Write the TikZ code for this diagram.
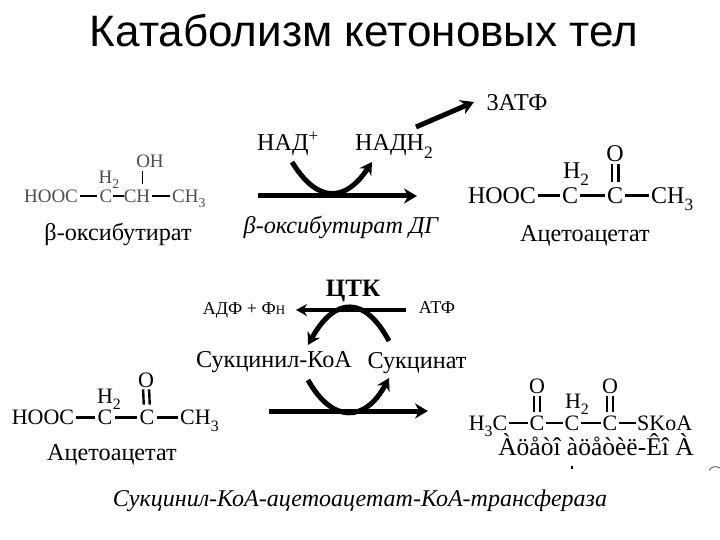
\documentclass[tikz,border=0pt]{standalone}
\usepackage{fontspec}
\setmainfont{Liberation Serif}
\newfontfamily\titlefont{Liberation Sans}
\usetikzlibrary{arrows.meta}
\newcommand{\lowindex}[1]{\raisebox{-0.3em}{\scalebox{0.72}{#1}}}
\tikzset{
    label24/.style={inner sep=0pt, text height=15.5pt, text depth=0pt, font=\fontsize{24.2}{26}\selectfont},
    label18/.style={inner sep=0pt, text height=12pt, text depth=0pt, font=\fontsize{18}{20}\selectfont},
    atomfaint/.style={inner sep=0pt, text height=12.5pt, text depth=0pt, text=black!70, font=\fontsize{19}{21}\selectfont},
    atom/.style={inner sep=0pt, text height=15.5pt, text depth=0pt, font=\fontsize{24}{26}\selectfont},
    atomsmall/.style={inner sep=0pt, text height=14.5pt, text depth=0pt, font=\fontsize{22}{24}\selectfont},
    bond/.style={line width=2.4pt, shorten >=2pt, shorten <=2pt},
    dblbond/.style={line width=2.4pt, shorten >=5.5pt, shorten <=2pt},
    thinbond/.style={line width=1.4pt, shorten >=1.5pt, shorten <=1.5pt},
    thindbl/.style={line width=1.4pt, shorten >=4pt, shorten <=2.5pt},
    fatarrow/.style={line width=5pt, -{Stealth[length=13pt,width=15pt]}},
    curvearrow/.style={line width=5pt, -{Stealth[length=12pt,width=14pt]}}
}
\begin{document}
\begin{tikzpicture}[x=1pt,y=-1pt]
        \useasboundingbox (0,0) rectangle (720,540);

        \node[inner sep=0pt, font=\titlefont\fontsize{44}{48}\selectfont] (title) at (364,31) {Катаболизм кетоновых тел};

        \node[atomfaint] (hooc1) at (51,196) {HOOC};
        \node[atomfaint] (c1a) at (106,196) {C};
        \node[atomfaint] (ch1) at (137,196) {CH};
        \node[atomfaint, anchor=west] (ch31) at (172,196) {CH\lowindex{3}};
        \node[atomfaint] (oh1) at (150,161) {OH};
        \node[atomfaint] (h1) at (109,177) {H\lowindex{2}};
        \draw[bond] (hooc1) -- (c1a);
        \draw[bond, shorten >=0pt, shorten <=0pt] (c1a) -- (ch1);
        \draw[bond] (ch1) -- (ch31);
        \coordinate (oh1b) at (142.7,171);
        \coordinate (ch1t) at (142.7,184);
        \draw[line width=0.7pt] (oh1b) -- (ch1t);
        \node[label24] (bhb) at (118,233) {β-оксибутират};

        \node[label24] (nad) at (288,143) {НАД\textsuperscript{+}};
        \node[label24] (nadh) at (394,143) {НАДН\lowindex{2}};
        \node[label24] (atp3) at (517,102.5) {3АТФ};
        \node[label24, font=\fontsize{24.2}{26}\selectfont\itshape] (bdh) at (341,226) {β-оксибутират ДГ};

        \coordinate (a1s) at (258,196);
        \coordinate (a1e) at (417,196);
        \coordinate (c1s) at (292,162);
        \coordinate (c1e) at (372,162);
        \coordinate (a2s) at (416,127);
        \coordinate (a2e) at (474,102);
        \draw[fatarrow] (a1s) -- (a1e);
        \draw[curvearrow] (c1s) .. controls (317,203) and (345,203) .. (c1e);
        \draw[fatarrow] (a2s) -- (a2e);

        \node[atom] (hooc2) at (502,195.5) {HOOC};
        \node[atom] (c2a) at (570,195.5) {C};
        \node[atom] (c2b) at (615,195.5) {C};
        \node[atom, anchor=west] (ch32) at (651,195.5) {CH\lowindex{3}};
        \node[atom] (h2) at (576,171) {H\lowindex{2}};
        \node[atom] (o2) at (615,154) {O};
        \draw[bond] (hooc2) -- (c2a);
        \draw[bond] (c2a) -- (c2b);
        \draw[bond] (c2b) -- (ch32);
        \draw[dblbond] ([xshift=-3.3pt]o2.south) -- ([xshift=-3.3pt]c2b.north);
        \draw[dblbond] ([xshift=3.3pt]o2.south) -- ([xshift=3.3pt]c2b.north);
        \node[label24] (aca1) at (585,234) {Ацетоацетат};

        \node[inner sep=0pt, text height=16pt, text depth=0pt, font=\fontsize{25}{27}\selectfont\bfseries] (tca) at (353,288) {ЦТК};
        \node[label18] (adp) at (244,308) {АДФ + Ф\scalebox{0.72}{Н}};
        \node[label18] (atp) at (437,307.5) {АТФ};
        \node[label24] (succoa) at (274,360) {Сукцинил-КоА};
        \node[label24] (suc) at (417,361) {Сукцинат};

        \coordinate (a3s) at (406,310);
        \coordinate (a3e) at (296,310);
        \coordinate (c3s) at (389,341);
        \coordinate (c3e) at (308,345);
        \draw[line width=4.5pt, -{Stealth[length=11pt,width=12pt]}] (a3s) -- (a3e);
        \draw[curvearrow] (c3s) .. controls (365,296) and (335,296) .. (c3e);

        \coordinate (a4s) at (269,411);
        \coordinate (a4e) at (428,411);
        \coordinate (c4s) at (308,380);
        \coordinate (c4e) at (389,378);
        \draw[fatarrow] (a4s) -- (a4e);
        \draw[curvearrow] (c4s) .. controls (332,423) and (365,423) .. (c4e);

        \node[atomsmall] (hooc3) at (43,417.5) {HOOC};
        \node[atomsmall] (c3a) at (105,417.5) {C};
        \node[atomsmall] (c3b) at (147,417.5) {C};
        \node[atomsmall, anchor=west] (ch33) at (180,417.5) {CH\lowindex{3}};
        \node[atomsmall] (h3) at (109,396) {H\lowindex{2}};
        \node[atomsmall] (o3) at (146,380) {O};
        \draw[bond] (hooc3) -- (c3a);
        \draw[bond] (c3a) -- (c3b);
        \draw[bond] (c3b) -- (ch33);
        \draw[dblbond] ([xshift=-3pt]o3.south) -- ([xshift=-3pt]c3b.north);
        \draw[dblbond] ([xshift=3pt]o3.south) -- ([xshift=3pt]c3b.north);
        \node[label24] (aca2) at (112,452.5) {Ацетоацетат};

        \node[atomsmall] (h3c4) at (488,423) {H\lowindex{3}C};
        \node[atomsmall] (c4a) at (537,423) {C};
        \node[atomsmall] (c4b) at (572,423) {C};
        \node[atomsmall] (c4c) at (610,423) {C};
        \node[atomsmall, anchor=west] (skoa) at (637,423) {SKoA};
        \node[atomsmall] (h4) at (577,401) {H\lowindex{2}};
        \node[atomsmall] (o4a) at (537,386) {O};
        \node[atomsmall] (o4b) at (610,386) {O};
        \draw[thinbond] (h3c4) -- (c4a);
        \draw[thinbond] (c4a) -- (c4b);
        \draw[thinbond] (c4b) -- (c4c);
        \draw[thinbond] (c4c) -- (skoa);
        \draw[thindbl] ([xshift=-3pt]o4a.south) -- ([xshift=-3pt]c4a.north);
        \draw[thindbl] ([xshift=3pt]o4a.south) -- ([xshift=3pt]c4a.north);
        \draw[thindbl] ([xshift=-3pt]o4b.south) -- ([xshift=-3pt]c4c.north);
        \draw[thindbl] ([xshift=3pt]o4b.south) -- ([xshift=3pt]c4c.north);
        \node[inner sep=0pt, text height=15pt, text depth=0pt, font=\fontsize{25.5}{27}\selectfont] (garbled) at (596,448) {Àöåòî àöåòèë-Êî À};

        \coordinate (marka) at (572,466);
        \coordinate (markb) at (572,469);
        \draw[line width=1.2pt] (marka) -- (markb);
        \coordinate (marcs) at (709,470);
        \coordinate (marce) at (720,468);
        \draw[line width=0.8pt, black!70] (marcs) .. controls (712,466) and (716,466) .. (marce);

        \node[inner sep=0pt, text height=15.5pt, text depth=0pt, font=\fontsize{24}{26}\selectfont\itshape] (enzyme) at (360,498.5) {Сукцинил-КоА-ацетоацетат-КоА-трансфераза};
\end{tikzpicture}
\end{document}
